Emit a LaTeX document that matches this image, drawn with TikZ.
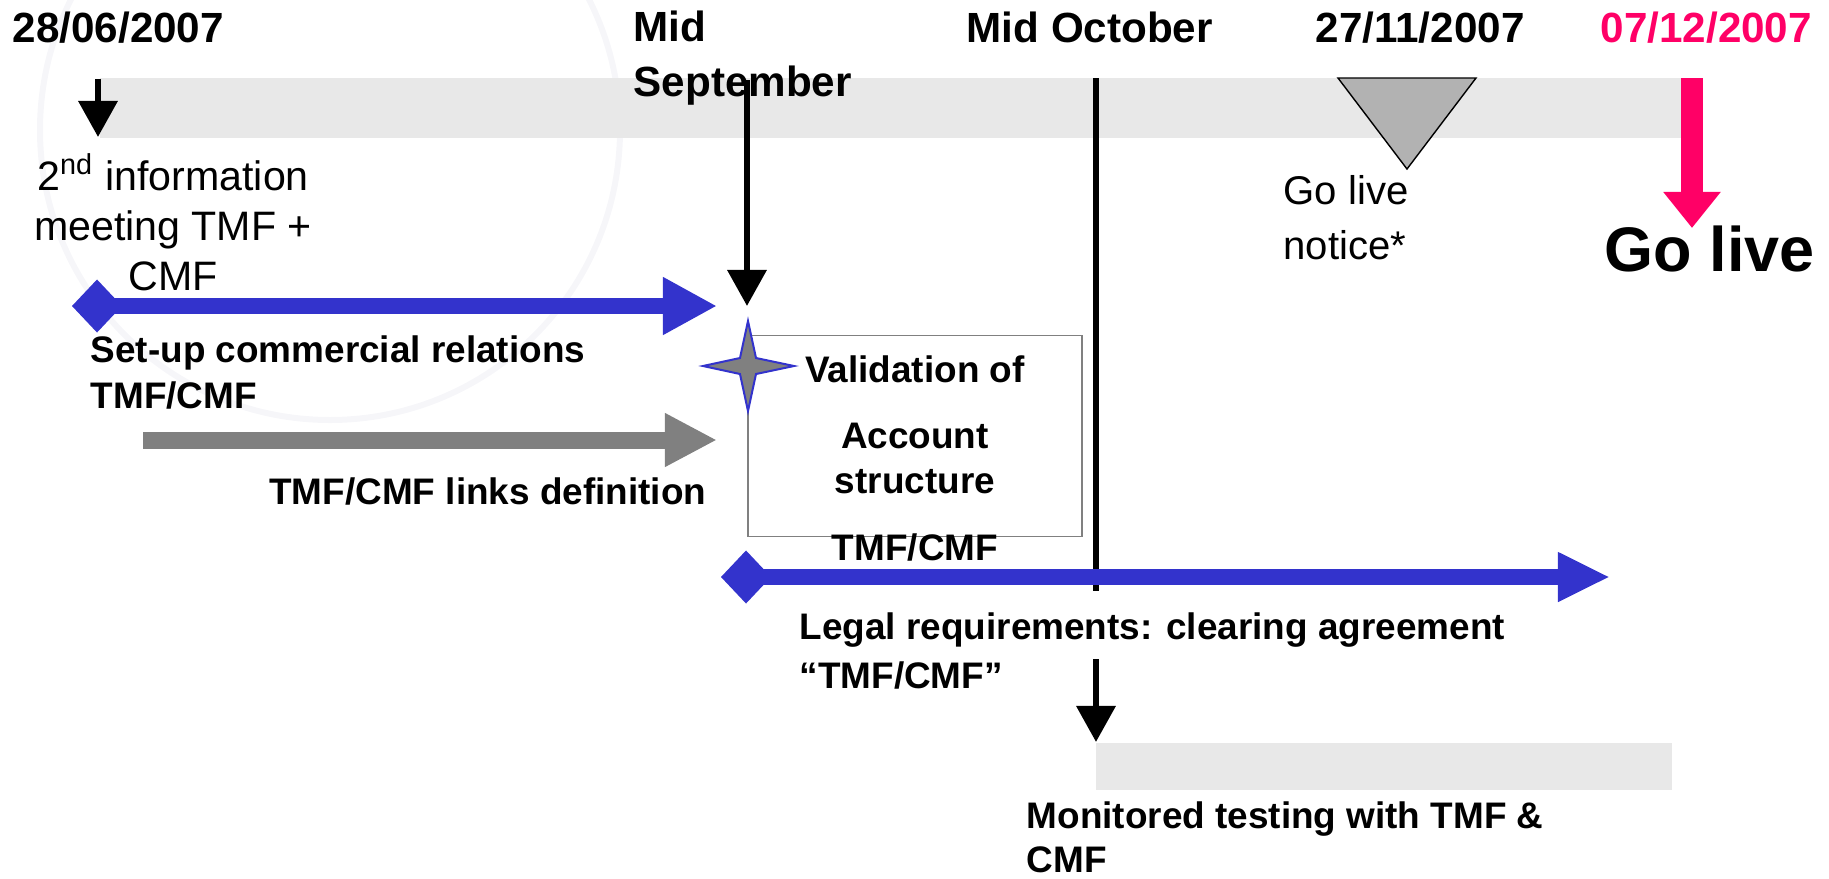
\documentclass[tikz,border=0pt]{standalone}
\usepackage{fontspec}
\setmainfont{Liberation Sans}
\usetikzlibrary{arrows.meta,positioning}
\definecolor{barGrey}{HTML}{E8E8E8}
\definecolor{planBlue}{HTML}{3333CC}
\definecolor{linkGrey}{HTML}{808080}
\definecolor{livePink}{HTML}{FF0066}
\definecolor{noticeGrey}{HTML}{B2B2B2}
\definecolor{markGrey}{HTML}{F6F6F9}
\begin{document}
\begin{tikzpicture}
  [x=0.01cm,y=-0.01cm,
   date/.style={font=\fontsize{12}{15.4}\selectfont\bfseries, align=left, anchor=base west, inner sep=0pt},
   task/.style={font=\fontsize{10.5}{12.8}\selectfont\bfseries, align=left, anchor=base west, inner sep=0pt},
   note/.style={font=\fontsize{11.7}{14.2}\selectfont, align=center, anchor=base, inner sep=0pt},
   milestone/.style={line width=0.065cm, -{Triangle[length=0.36cm,width=0.38cm]}},
   phase/.style={draw=planBlue, line width=0.16cm, {Diamond[length=0.5cm,width=0.53cm]}-{Triangle[length=0.54cm,width=0.54cm]}}]
  \useasboundingbox (0,0) rectangle (1829,878);
  \draw[markGrey, line width=0.06cm] (330,130) circle[radius=290];

  % timeline bars
  \fill[barGrey] (100,78) rectangle (1681,138);
  \fill[barGrey] (1096,743) rectangle (1672,790);

  % dates (base = last line)
  \node[date] (start) at (12,42) {28/06/2007};
  \node[date] (sept) at (633,96) {Mid\\September};
  \node[date] (oct) at (966,42) {Mid October};
  \node[date] (notice) at (1315,42) {27/11/2007};
  \node[date, livePink] (live) at (1600,42) {07/12/2007};

  % milestones
  \coordinate (startA) at (98,79);
  \coordinate (startB) at (98,137);
  \coordinate (septA) at (747,80);
  \coordinate (septB) at (747,306);
  \coordinate (octA) at (1096,78);
  \coordinate (octB) at (1096,591);
  \coordinate (testA) at (1096,659);
  \coordinate (testB) at (1096,742);
  \coordinate (liveA) at (1692,78);
  \coordinate (liveB) at (1692,228);

  \foreach \from/\to in {startA/startB, septA/septB, testA/testB}
    \draw[milestone] (\from) -- (\to);
  \draw[line width=0.065cm] (octA) -- (octB);
  \draw[livePink, line width=0.22cm, -{Triangle[length=0.36cm,width=0.55cm]}] (liveA) -- (liveB);
  \draw[fill=noticeGrey, line width=0.4pt] (1338,78) -- (1476,78) -- (1407,169) -- cycle;

  \node[note] (meeting) at (173,290) {2\textsuperscript{nd} information\\meeting TMF +\\CMF};
  \node[note, anchor=base west, align=left, font=\fontsize{11.4}{15.6}\selectfont] (noticetxt) at (1283,259) {Go live\\notice*};
  \node[task, font=\fontsize{17.9}{20}\selectfont\bfseries] (golive) at (1604,271) {Go live};

  % phases
  \coordinate (setupA) at (72,306);
  \coordinate (setupB) at (717,306);
  \coordinate (linksA) at (143,440);
  \coordinate (linksB) at (717,440);
  \coordinate (legalA) at (721,577);
  \coordinate (legalB) at (1610,577);
  \draw[phase] (setupA) -- (setupB);
  \draw[linkGrey, line width=0.17cm, -{Triangle[length=0.52cm,width=0.5cm]}] (linksA) -- (linksB);
  \draw[phase, {Diamond[length=0.5cm,width=0.53cm]}-{Triangle[length=0.52cm,width=0.46cm]}] (legalA) -- (legalB);

  \node[task] (setup) at (90,408) {Set-up commercial relations\\TMF/CMF};
  \node[task, anchor=base east] (links) at (707,504) {TMF/CMF links definition};

  % validation
  \node[draw=linkGrey, line width=0.5pt, minimum width=3.34cm, minimum height=2.01cm, inner sep=0pt] (valbox) at (915,436) {};
  \draw[fill=linkGrey, draw=planBlue, line width=0.02cm]
    (748,321) -- (756,358) -- (794,366) -- (756,374) -- (748,411) -- (740,374) -- (703,366) -- (740,358) -- cycle;
  \node[task, anchor=base, align=center] (valtext) at (915,560) {Validation of\\[6pt]Account\\structure\\[6pt]TMF/CMF};

  \node[task, font=\fontsize{10.5}{13.9}\selectfont\bfseries] (legal) at (799,688) {Legal requirements: clearing agreement\\“TMF/CMF”};
  \node[task, font=\fontsize{10.5}{12.3}\selectfont\bfseries] (testing) at (1026,872) {Monitored testing with TMF \&\\CMF};
\end{tikzpicture}
\end{document}
